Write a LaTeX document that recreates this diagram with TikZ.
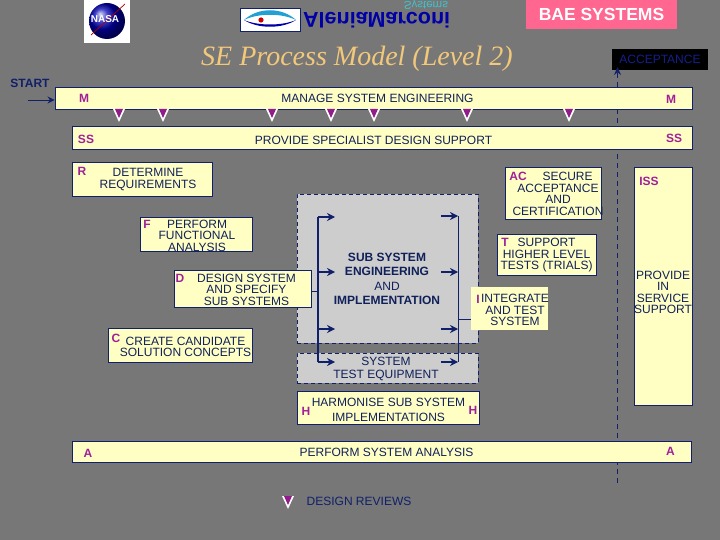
\documentclass[tikz,border=0pt]{standalone}
\usepackage{fontspec}
\setmainfont{Liberation Sans}
\newfontfamily\titlefont{Liberation Serif}
\usepackage{tikz}
\usetikzlibrary{arrows.meta,positioning,calc}
\definecolor{bggrey}{HTML}{777777}
\definecolor{boxfill}{HTML}{FFFFC4}
\definecolor{navy}{HTML}{10206A}
\definecolor{inktxt}{HTML}{10205A}
\definecolor{code}{HTML}{A0209A}
\definecolor{seFill}{HTML}{CDCDCD}
\definecolor{baepink}{HTML}{FF6690}
\definecolor{titlegold}{HTML}{F2C87A}
\definecolor{accblue}{HTML}{14208C}
\definecolor{systeal}{HTML}{3CC4CC}
\tikzset{
  blk/.style={draw=navy,line width=0.9pt,fill=boxfill,inner sep=0pt},
  greyb/.style={draw=navy,dash pattern=on 4pt off 3pt,line width=0.8pt,fill=seFill,inner sep=0pt},
  txt/.style={align=center,font=\fontsize{12}{11.5}\selectfont,text=inktxt,inner sep=0pt},
  tag/.style={font=\fontsize{12}{12}\selectfont\bfseries,text=code,inner sep=0pt},
  sig/.style={-{Stealth[length=8pt,width=8pt]},navy,line width=1.2pt},
  bus/.style={navy,line width=1.6pt},
  wire/.style={navy,line width=0.8pt}
}
% box given by size, placed by its centre
\newcommand{\pbox}[6][blk]{\node[#1,minimum width=#2,minimum height=#3] (#4) at (#5,#6) {};}
\newcommand{\review}[2]{%
  \fill[white] (#1-6,#2) -- (#1+6,#2) -- (#1,#2+13) -- cycle;
  \fill[code!90!black] (#1-4,#2) -- (#1+4,#2) -- (#1,#2+9) -- cycle;}
\begin{document}
\begin{tikzpicture}[x=1pt,y=-1pt]
  \useasboundingbox[fill=bggrey] (0,0) rectangle (720,540);
  % ---- logos ----
  \node[fill=white,minimum width=46pt,minimum height=43pt,inner sep=0pt] (nasa) at (107,21.5) {};
  \shade[ball color=blue!70!black] (107,21) circle (18pt);
  \draw[red!70!black,line width=0.7pt] (91,35) -- (125,4);
  \node[font=\fontsize{10}{10}\selectfont\bfseries,text=white,inner sep=0pt] (nasatxt) at (105,19) {NASA};
  \node[draw=navy,fill=white,minimum width=60pt,minimum height=23pt,inner sep=0pt] (eye) at (270,19.5) {};
  \fill[cyan!70!teal] (244,20) .. controls (258,7) and (282,7) .. (296,20) .. controls (282,13) and (258,13) .. cycle;
  \fill[blue!65!black] (244,20) .. controls (258,29) and (282,29) .. (296,20) .. controls (282,26) and (258,26) .. cycle;
  \fill[red!80!black] (261,20) circle (2.6pt);
  \node[yscale=-1,transform shape,font=\fontsize{21.5}{22}\selectfont\bfseries,text=blue!65!black,inner sep=0pt,anchor=west] (alenia) at (303,20) {AleniaMarconi};
  \node[yscale=-1,transform shape,font=\fontsize{11.5}{12}\selectfont,text=systeal,inner sep=0pt] (systems) at (426,4.5) {Systems};
  \node[fill=baepink,minimum width=151pt,minimum height=29pt,inner sep=0pt,font=\fontsize{17.5}{18}\selectfont\bfseries,text=white] (bae) at (601.5,14.5) {BAE SYSTEMS};
  % ---- title ----
  \node[font=\fontsize{28}{28}\selectfont\titlefont\itshape,text=titlegold,inner sep=0pt] (title) at (357,59) {SE Process Model (Level 2)};
  \node[fill=black,minimum width=96pt,minimum height=21pt,inner sep=0pt,font=\fontsize{12}{12}\selectfont,text=accblue] (accept) at (660,59.5) {ACCEPTANCE};
  \node[font=\fontsize{12}{12}\selectfont\bfseries,text=navy,inner sep=0pt] (start) at (30,83.5) {START};
  % ---- acceptance line, behind the bars ----
  \coordinate (dashend) at (617.5,483);
  \coordinate (dashtop) at (617.5,67);
  \draw[navy,dash pattern=on 5pt off 4pt,line width=0.9pt,-{Stealth[length=8pt,width=7pt]}] (dashend) -- (dashtop);
  % ---- grey blocks ----
  \pbox[greyb]{181pt}{149pt}{sse}{387.5}{268.5}
  \pbox[greyb]{181pt}{30pt}{ste}{387.5}{368}
  % ---- bars ----
  \pbox{637pt}{22pt}{mse}{373.5}{98}
  \pbox{619.5pt}{22.5pt}{pss}{382.25}{138}
  \pbox{618.5pt}{21pt}{psa}{382}{452}
  \pbox{58pt}{238pt}{iss}{663}{286}
  % ---- activity boxes ----
  \pbox{139.5pt}{34pt}{req}{142.25}{179.5}
  \pbox{112pt}{34pt}{func}{196}{234}
  \pbox{137pt}{37pt}{des}{242.5}{288.5}
  \pbox{144pt}{34pt}{cand}{180}{345}
  \pbox{96pt}{52pt}{acc}{553}{193}
  \pbox{99pt}{41pt}{trial}{546.5}{254.5}
  \pbox{182pt}{33pt}{harm}{388}{407.5}
  \node[fill=boxfill,minimum width=77pt,minimum height=43pt,inner sep=0pt] (integ) at (509.5,308.5) {};
  % ---- review markers ----
  \foreach \rx in {119,163,272,331,374,467,569} {\review{\rx}{109}}
  \review{288}{496}
  % ---- box texts ----
  \node[txt] (msetxt) at (377.5,98.5) {MANAGE SYSTEM ENGINEERING};
  \node[txt] (psstxt) at (373.5,140.5) {PROVIDE SPECIALIST DESIGN SUPPORT};
  \node[txt] (psatxt) at (386.5,452.5) {PERFORM SYSTEM ANALYSIS};
  \node[txt] (reqtxt) at (148,179.5) {DETERMINE\\REQUIREMENTS};
  \node[txt] (functxt) at (197,235.5) {PERFORM\\FUNCTIONAL\\ANALYSIS};
  \node[txt] (destxt) at (246.5,289.5) {DESIGN SYSTEM\\AND SPECIFY\\SUB SYSTEMS};
  \node[txt] (candtxt) at (185.5,347) {CREATE CANDIDATE\\SOLUTION CONCEPTS};
  \node[txt] (acctxt) at (558,194) {\hspace*{1.6em}SECURE\\ACCEPTANCE\\AND\\CERTIFICATION};
  \node[txt] (trialtxt) at (546.5,255.5) {SUPPORT\\HIGHER LEVEL\\TESTS (TRIALS)};
  \node[txt] (integtxt) at (515,310) {INTEGRATE\\AND TEST\\SYSTEM};
  \node[txt] (isstxt) at (663,292.5) {PROVIDE\\IN\\SERVICE\\SUPPORT};
  \node[txt,font=\fontsize{12}{13}\selectfont] (stetxt) at (386,369) {SYSTEM\\TEST EQUIPMENT};
  \node[txt,font=\fontsize{12}{14.5}\selectfont] (harmtxt) at (388.5,410) {HARMONISE SUB SYSTEM\\IMPLEMENTATIONS};
  \node[txt,font=\fontsize{12}{14.5}\selectfont] (ssetxt) at (387,279) {\textbf{SUB SYSTEM}\\\textbf{ENGINEERING}\\AND\\\textbf{IMPLEMENTATION}};
  \node[txt,text=navy] (reviewtxt) at (359,501.5) {DESIGN REVIEWS};
  % ---- letter tags ----
  \node[tag] (tm1) at (84,98.5) {M};
  \node[tag] (tm2) at (671,99.5) {M};
  \node[tag] (ts1) at (86,139) {SS};
  \node[tag] (ts2) at (674,138.5) {SS};
  \node[tag] (tr) at (82,171) {R};
  \node[tag] (tac) at (518,176) {AC};
  \node[tag] (tiss) at (649,181.5) {ISS};
  \node[tag] (tf) at (147,224.5) {F};
  \node[tag] (td) at (180,278.5) {D};
  \node[tag] (tc) at (116,338) {C};
  \node[tag] (tt) at (505,242.5) {T};
  \node[tag] (ti) at (478,299) {I};
  \node[tag] (th1) at (306,411) {H};
  \node[tag] (th2) at (473,410.5) {H};
  \node[tag] (ta1) at (88,453) {A};
  \node[tag] (ta2) at (670.5,451.5) {A};
  % ---- start arrow ----
  \coordinate (startin) at (28,100);
  \draw[navy,line width=0.8pt,-{Stealth[length=7pt,width=7pt]}] (startin) -- (mse.west |- startin);
  % ---- left bus, fed by D ----
  \coordinate (ltop) at (318,217);
  \coordinate (lbot) at (318,362);
  \coordinate (lfeed) at (318,291);
  \draw[bus] (ltop) -- (lbot);
  \draw[wire] (des.east |- lfeed) -- (lfeed);
  \foreach \ly in {217,272,329,362} {\draw[sig] (318,\ly) -- (335,\ly);}
  % ---- right bus, into I ----
  \coordinate (rtop) at (458,216);
  \coordinate (rbot) at (458,362);
  \coordinate (rfeed) at (458,319);
  \draw[wire,line width=1pt] (rtop) -- (rbot);
  \draw[wire] (rfeed) -- (integ.west |- rfeed);
  \foreach \ry in {216,272,329,362} {\draw[sig] (441,\ry) -- (458,\ry);}
\end{tikzpicture}
\end{document}
